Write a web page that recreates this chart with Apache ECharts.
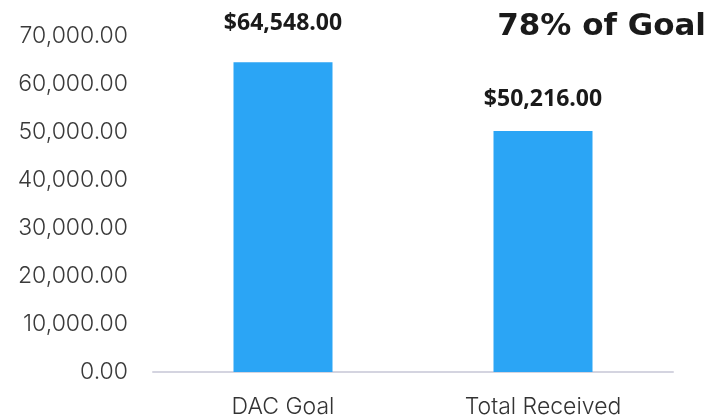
<!DOCTYPE html>
<html>
<head>
<meta charset="utf-8">
<script src="https://cdn.jsdelivr.net/npm/echarts@6/dist/echarts.min.js"></script>
<style>
  html, body { margin: 0; padding: 0; background: #fff; }
  #chart { width: 723px; height: 420px; }
</style>
</head>
<body>
<div id="chart"></div>
<script>
// data
const categories = ['DAC Goal', 'Total Received'];
const amounts = [64548, 50216];
const labelGaps = [27, 20]; // how far each value label sits above its bar
const headline = '78% of Goal';

const chart = echarts.init(document.getElementById('chart'));

const money = (v) => '$' + v.toLocaleString('en-US', { minimumFractionDigits: 2, maximumFractionDigits: 2 });

chart.setOption({
  animation: false,
  title: {
    text: headline,
    right: 12,
    top: 6,
    textStyle: { fontFamily: 'DejaVu Sans', fontWeight: 'bold', fontSize: 31, color: '#1a1a1a' }
  },
  grid: { left: 153, right: 50, top: 36, bottom: 48 },
  xAxis: {
    type: 'category',
    data: categories,
    axisLine: { lineStyle: { color: '#d4d4e0', width: 2 } },
    axisTick: { show: false },
    axisLabel: { fontFamily: 'Inter', fontWeight: 300, fontSize: 23, color: '#333', margin: 24 }
  },
  yAxis: {
    type: 'value',
    min: 0,
    max: 70000,
    interval: 10000,
    splitLine: { show: false },
    axisLabel: {
      fontFamily: 'Inter',
      fontWeight: 300,
      fontSize: 23,
      color: '#3a3a3a',
      margin: 25,
      formatter: (v) => v.toLocaleString('en-US', { minimumFractionDigits: 2 })
    }
  },
  series: [{
    type: 'bar',
    barWidth: 99,
    itemStyle: { color: '#2ba5f5' },
    data: amounts.map((v, i) => ({
      value: v,
      label: { distance: labelGaps[i] }
    })),
    label: {
      show: true,
      position: 'top',
      formatter: (p) => money(p.value),
      fontFamily: 'Open Sans',
      fontWeight: 'bold',
      fontSize: 23,
      color: '#1a1a1a'
    }
  }]
});
</script>
</body>
</html>
